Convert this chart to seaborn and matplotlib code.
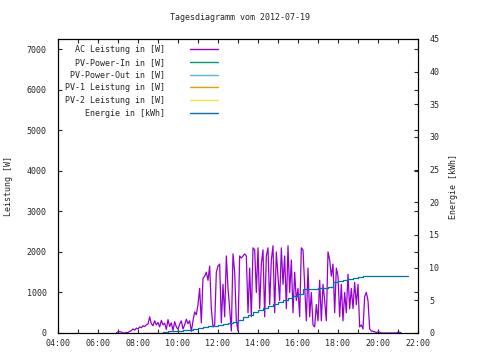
import numpy as np
import pandas as pd
import matplotlib
matplotlib.use("Agg")
import matplotlib.pyplot as plt
from matplotlib.lines import Line2D
from matplotlib.ticker import MultipleLocator
import seaborn as sns

# ---------------- data ----------------
title = "Tagesdiagramm vom 2012-07-19"
series_labels = ["AC Leistung in [W]", "PV-Power-In in [W]", "PV-Power-Out in [W]",
                 "PV-1 Leistung in [W]", "PV-2 Leistung in [W]", "Energie in [kWh]"]
series_colors = ["#9400d3", "#009e73", "#56b4e9", "#e69f00", "#f0e442", "#0072b2"]

power_start = "06:55"      # 5-minute samples
ac_power = [
    0,
    30, 30, 25, 0, 0, 15, 10, 40, 60, 100, 70, 120,                 # 07
    100, 150, 130, 180, 160, 200, 220, 400, 230, 180, 300, 200,     # 08
    260, 150, 310, 200, 240, 90, 330, 160, 250, 60, 280, 150,       # 09
    90, 220, 300, 100, 200, 340, 230, 300, 40, 300, 520, 450,       # 10
    700, 1100, 250, 1350, 1400, 1500, 1300, 1650, 600, 150, 200, 1500,   # 11
    1650, 1700, 250, 1200, 400, 1900, 1100, 600, 50, 1950, 1500, 300,    # 12
    50, 1900, 1850, 1900, 1950, 1900, 500, 1600, 400, 2100, 2050, 1000,  # 13
    2100, 600, 1700, 2050, 400, 1900, 2100, 700, 1800, 2150, 500, 2000,  # 14
    1400, 800, 2100, 1200, 1900, 600, 2150, 1000, 1800, 500, 1500, 800,  # 15
    1100, 400, 2100, 2050, 1200, 300, 1600, 400, 1000, 200, 150, 700,    # 16
    300, 1300, 300, 1200, 800, 300, 2000, 1800, 1400, 1700, 500, 1600,   # 17
    1400, 400, 1200, 300, 1000, 500, 1450, 600, 1100, 600, 1250, 700,    # 18
    1200, 150, 200, 100, 900, 1000, 800, 100, 50, 40, 30, 10,            # 19
    30, 20, 0, 0, 0, 0, 0, 0, 0, 0, 0, 0,                                # 20
    20, 20, 0,                                                           # 21
]

energy_start = "08:15"     # 15-minute samples
energy_kwh = [
    0.0, 0.0, 0.02,
    0.05, 0.1, 0.25, 0.3,       # 09
    0.35, 0.4, 0.45, 0.55,      # 10
    0.7, 0.85, 1.0, 1.1,        # 11
    1.25, 1.4, 1.55, 1.75,      # 12
    2.0, 2.4, 2.8, 3.2,         # 13
    3.5, 3.8, 4.1, 4.4,         # 14
    4.8, 5.1, 5.4, 5.7,         # 15
    5.9, 6.7, 6.75, 6.8,        # 16
    6.85, 6.9, 7.1, 7.8,        # 17
    7.9, 8.1, 8.3, 8.4,         # 18
    8.6, 8.65, 8.7, 8.7,        # 19
    8.7, 8.7, 8.7, 8.7,         # 20
    8.7, 8.7, 8.7,              # 21
]

x_tick_labels = ["04:00", "06:00", "08:00", "10:00", "12:00",
                 "14:00", "16:00", "18:00", "20:00", "22:00"]
y_label = "Leistung [W]"
y2_label = "Energie [kWh]"


def to_hours(s):
    h, m = s.split(":")
    return int(h) + int(m) / 60.0


p_t0 = to_hours(power_start)
df_p = pd.DataFrame({"t": [p_t0 + i * 5 / 60 for i in range(len(ac_power))],
                     "p": ac_power})
e_t0 = to_hours(energy_start)
df_e = pd.DataFrame({"t": [e_t0 + i * 15 / 60 for i in range(len(energy_kwh))],
                     "e": energy_kwh})

# ---------------- style ----------------
sns.set_style("white")
plt.rcParams["font.family"] = ["DejaVu Sans Mono", "DejaVu Sans"]
plt.rcParams["font.size"] = 6
FS = 6

fig = plt.figure(figsize=(4.8, 3.6), dpi=100)
ax = fig.add_axes([58 / 480, 1 - 333 / 360, 360 / 480, 294 / 360])
ax2 = ax.twinx()

sns.lineplot(data=df_p, x="t", y="p", ax=ax, color=series_colors[0],
             linewidth=0.9, legend=False)
sns.lineplot(data=df_e, x="t", y="e", ax=ax2, color=series_colors[5],
             linewidth=0.9, legend=False, drawstyle="steps-post")

xt = [to_hours(s) for s in x_tick_labels]
ax.set_xlim(xt[0], xt[-1])
ax.set_xticks(xt)
ax.set_xticklabels(x_tick_labels)
ax.xaxis.set_minor_locator(MultipleLocator(1))
ax.set_ylim(0, 7250)
ax.set_yticks(range(0, 7001, 1000))
ax2.set_ylim(0, 45)
ax2.set_yticks(range(0, 46, 5))
ax.set_xlabel("")
ax.set_ylabel("")
ax2.set_ylabel("")

for a in (ax, ax2):
    for sp in a.spines.values():
        sp.set_linewidth(0.8)
        sp.set_color("black")

ax.tick_params(axis="x", which="major", direction="in", length=3, width=0.8,
               top=True, bottom=True, pad=4, labelsize=FS)
ax.tick_params(axis="x", which="minor", direction="in", length=3, width=0.8,
               top=True, bottom=True)
ax.tick_params(axis="y", which="major", direction="in", length=3, width=0.8,
               left=True, right=True, pad=8, labelsize=FS)
ax2.tick_params(axis="y", which="major", direction="in", length=3, width=0.8,
                left=False, right=True, pad=8, labelsize=FS)

fig.text(240 / 480, 1 - 18 / 360, title, ha="center", va="center", fontsize=FS)
fig.text(9 / 480, 0.5 * ((1 - 333 / 360) + (1 - 39 / 360)), y_label,
         rotation=90, ha="center", va="center", fontsize=FS)
fig.text(453 / 480, 0.5 * ((1 - 333 / 360) + (1 - 39 / 360)), y2_label,
         rotation=90, ha="center", va="center", fontsize=FS)

handles = [Line2D([], [], color=c, linewidth=1.0) for c in series_colors]
leg = ax.legend(handles, series_labels, loc="upper right",
                bbox_to_anchor=((218 - 58) / 360, 1 - 6 / 294),
                frameon=False, markerfirst=False, fontsize=FS,
                handlelength=3.4, handletextpad=3.0, labelspacing=0.45,
                borderpad=0, borderaxespad=0)

fig.savefig("out.png", dpi=100)
